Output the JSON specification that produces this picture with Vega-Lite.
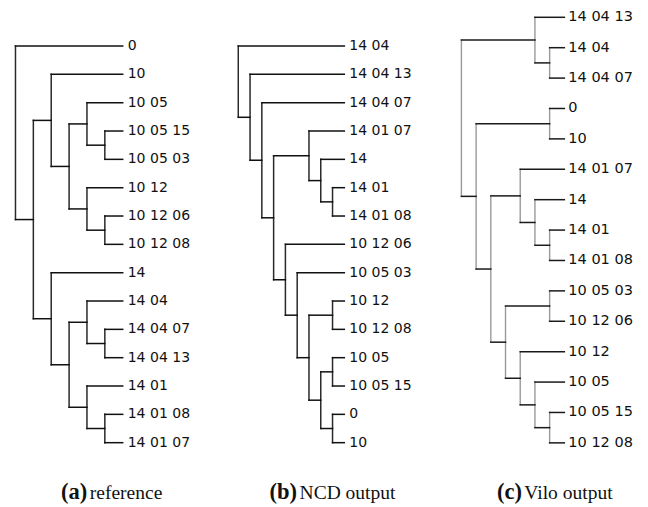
{
  "$schema": "https://vega.github.io/schema/vega-lite/v6.json",
  "padding": 0,
  "spacing": 0,
  "bounds": "flush",
  "config": {"view": {"stroke": null}},
  "datasets": {
    "a": [
      {"id": "0", "h": 0, "y": 0, "parent": "root"},
      {"id": "10", "h": 0, "y": 1, "parent": "B"},
      {"id": "10 05", "h": 0, "y": 2, "parent": "E"},
      {"id": "10 05 15", "h": 0, "y": 3, "parent": "G"},
      {"id": "10 05 03", "h": 0, "y": 4, "parent": "G"},
      {"id": "10 12", "h": 0, "y": 5, "parent": "F"},
      {"id": "10 12 06", "h": 0, "y": 6, "parent": "H"},
      {"id": "10 12 08", "h": 0, "y": 7, "parent": "H"},
      {"id": "14", "h": 0, "y": 8, "parent": "C"},
      {"id": "14 04", "h": 0, "y": 9, "parent": "J"},
      {"id": "14 04 07", "h": 0, "y": 10, "parent": "L"},
      {"id": "14 04 13", "h": 0, "y": 11, "parent": "L"},
      {"id": "14 01", "h": 0, "y": 12, "parent": "K"},
      {"id": "14 01 08", "h": 0, "y": 13, "parent": "M"},
      {"id": "14 01 07", "h": 0, "y": 14, "parent": "M"},
      {"id": "G", "h": 1, "y": 3.5, "parent": "E"},
      {"id": "E", "h": 2, "y": 2.75, "parent": "D"},
      {"id": "H", "h": 1, "y": 6.5, "parent": "F"},
      {"id": "F", "h": 2, "y": 5.75, "parent": "D"},
      {"id": "D", "h": 3, "y": 4.25, "parent": "B"},
      {"id": "B", "h": 4, "y": 2.625, "parent": "A"},
      {"id": "L", "h": 1, "y": 10.5, "parent": "J"},
      {"id": "J", "h": 2, "y": 9.75, "parent": "I"},
      {"id": "M", "h": 1, "y": 13.5, "parent": "K"},
      {"id": "K", "h": 2, "y": 12.75, "parent": "I"},
      {"id": "I", "h": 3, "y": 11.25, "parent": "C"},
      {"id": "C", "h": 4, "y": 9.625, "parent": "A"},
      {"id": "A", "h": 5, "y": 6.125, "parent": "root"},
      {"id": "root", "h": 6, "y": 3.0625, "parent": null}
    ],
    "b": [
      {"id": "14 04", "h": 0, "y": 0, "parent": "root"},
      {"id": "14 04 13", "h": 0, "y": 1, "parent": "N1"},
      {"id": "14 04 07", "h": 0, "y": 2, "parent": "N2"},
      {"id": "14 01 07", "h": 0, "y": 3, "parent": "N4"},
      {"id": "14", "h": 0, "y": 4, "parent": "N6"},
      {"id": "14 01", "h": 0, "y": 5, "parent": "N7"},
      {"id": "14 01 08", "h": 0, "y": 6, "parent": "N7"},
      {"id": "10 12 06", "h": 0, "y": 7, "parent": "N5"},
      {"id": "10 05 03", "h": 0, "y": 8, "parent": "N8"},
      {"id": "10 12", "h": 0, "y": 9, "parent": "N10"},
      {"id": "10 12 08", "h": 0, "y": 10, "parent": "N10"},
      {"id": "10 05", "h": 0, "y": 11, "parent": "N12"},
      {"id": "10 05 15", "h": 0, "y": 12, "parent": "N12"},
      {"id": "0", "h": 0, "y": 13, "parent": "N13"},
      {"id": "10", "h": 0, "y": 14, "parent": "N13"},
      {"id": "N7", "h": 1, "y": 5.5, "parent": "N6"},
      {"id": "N6", "h": 2, "y": 4.75, "parent": "N4"},
      {"id": "N4", "h": 3, "y": 3.875, "parent": "N3"},
      {"id": "N10", "h": 1, "y": 9.5, "parent": "N9"},
      {"id": "N12", "h": 1, "y": 11.5, "parent": "N11"},
      {"id": "N13", "h": 1, "y": 13.5, "parent": "N11"},
      {"id": "N11", "h": 2, "y": 12.5, "parent": "N9"},
      {"id": "N9", "h": 3, "y": 11, "parent": "N8"},
      {"id": "N8", "h": 4, "y": 9.5, "parent": "N5"},
      {"id": "N5", "h": 5, "y": 8.25, "parent": "N3"},
      {"id": "N3", "h": 6, "y": 6.0625, "parent": "N2"},
      {"id": "N2", "h": 7, "y": 4.03125, "parent": "N1"},
      {"id": "N1", "h": 8, "y": 2.515625, "parent": "root"},
      {"id": "root", "h": 9, "y": 1.2578125, "parent": null}
    ],
    "c": [
      {"id": "14 04 13", "h": 0, "y": 0, "parent": "N1"},
      {"id": "14 04", "h": 0, "y": 1, "parent": "N3"},
      {"id": "14 04 07", "h": 0, "y": 2, "parent": "N3"},
      {"id": "0", "h": 0, "y": 3, "parent": "N4"},
      {"id": "10", "h": 0, "y": 4, "parent": "N4"},
      {"id": "14 01 07", "h": 0, "y": 5, "parent": "N6"},
      {"id": "14", "h": 0, "y": 6, "parent": "N8"},
      {"id": "14 01", "h": 0, "y": 7, "parent": "N9"},
      {"id": "14 01 08", "h": 0, "y": 8, "parent": "N9"},
      {"id": "10 05 03", "h": 0, "y": 9, "parent": "N10"},
      {"id": "10 12 06", "h": 0, "y": 10, "parent": "N10"},
      {"id": "10 12", "h": 0, "y": 11, "parent": "N11"},
      {"id": "10 05", "h": 0, "y": 12, "parent": "N12"},
      {"id": "10 05 15", "h": 0, "y": 13, "parent": "N13"},
      {"id": "10 12 08", "h": 0, "y": 14, "parent": "N13"},
      {"id": "N3", "h": 1, "y": 1.5, "parent": "N1"},
      {"id": "N1", "h": 2, "y": 0.75, "parent": "root"},
      {"id": "N4", "h": 1, "y": 3.5, "parent": "N2"},
      {"id": "N9", "h": 1, "y": 7.5, "parent": "N8"},
      {"id": "N8", "h": 2, "y": 6.75, "parent": "N6"},
      {"id": "N6", "h": 3, "y": 5.875, "parent": "N5"},
      {"id": "N10", "h": 1, "y": 9.5, "parent": "N7"},
      {"id": "N13", "h": 1, "y": 13.5, "parent": "N12"},
      {"id": "N12", "h": 2, "y": 12.75, "parent": "N11"},
      {"id": "N11", "h": 3, "y": 11.875, "parent": "N7"},
      {"id": "N7", "h": 4, "y": 10.6875, "parent": "N5"},
      {"id": "N5", "h": 5, "y": 8.28125, "parent": "N2"},
      {"id": "N2", "h": 6, "y": 5.890625, "parent": "root"},
      {"id": "root", "h": 7, "y": 3.3203125, "parent": null}
    ]
  },
  "hconcat": [
    {
      "width": 216,
      "height": 507,
      "data": {"name": "a"},
      "layer": [
        {
          "transform": [
            {"filter": "datum.parent != null"},
            {"aggregate": [{"op": "min", "field": "y", "as": "y1"}, {"op": "max", "field": "y", "as": "y2"}], "groupby": ["parent"]},
            {"lookup": "parent", "from": {"data": {"name": "a"}, "key": "id", "fields": ["h"]}}
          ],
          "mark": {"type": "rule", "color": "#2a2a2a", "strokeWidth": 1.5, "strokeCap": "square"},
          "encoding": {
            "x": {"field": "h", "type": "quantitative", "scale": {"domain": [-5.22, 6.866], "reverse": true, "nice": false, "zero": false}, "axis": null},
            "y": {"field": "y1", "type": "quantitative", "scale": {"domain": [-1.624, 16.27], "reverse": true, "nice": false, "zero": false}, "axis": null},
            "y2": {"field": "y2"}
          }
        },
        {
          "transform": [
            {"filter": "datum.parent != null"},
            {"lookup": "parent", "from": {"data": {"name": "a"}, "key": "id", "fields": ["h"]}, "as": ["ph"]}
          ],
          "mark": {"type": "rule", "color": "#111111", "strokeWidth": 1.5, "strokeCap": "square"},
          "encoding": {
            "x": {"field": "h", "type": "quantitative", "scale": {"domain": [-5.22, 6.866], "reverse": true, "nice": false, "zero": false}, "axis": null},
            "x2": {"field": "ph"},
            "y": {"field": "y", "type": "quantitative", "scale": {"domain": [-1.624, 16.27], "reverse": true, "nice": false, "zero": false}, "axis": null}
          }
        },
        {
          "transform": [{"filter": "datum.h == 0"}],
          "mark": {"type": "text", "align": "left", "baseline": "middle", "dx": 5, "font": "DejaVu Sans", "fontSize": 14, "color": "#111111"},
          "encoding": {
            "x": {"field": "h", "type": "quantitative", "scale": {"domain": [-5.22, 6.866], "reverse": true, "nice": false, "zero": false}, "axis": null},
            "y": {"field": "y", "type": "quantitative", "scale": {"domain": [-1.624, 16.27], "reverse": true, "nice": false, "zero": false}, "axis": null},
            "text": {"field": "id"}
          }
        },
        {
          "data": {"values": [{"tag": "(a)", "caption": "reference"}]},
          "mark": {"type": "text", "align": "right", "baseline": "alphabetic", "font": "Liberation Serif", "fontWeight": "bold", "fontSize": 22.5, "color": "#111111"},
          "encoding": {
            "x": {"datum": 1.98, "type": "quantitative"},
            "y": {"datum": 16.0, "type": "quantitative"},
            "text": {"field": "tag"}
          }
        },
        {
          "data": {"values": [{"tag": "(a)", "caption": "reference"}]},
          "mark": {"type": "text", "align": "left", "baseline": "alphabetic", "font": "Liberation Serif", "fontSize": 19.5, "color": "#111111"},
          "encoding": {
            "x": {"datum": 1.84, "type": "quantitative"},
            "y": {"datum": 16.0, "type": "quantitative"},
            "text": {"field": "caption"}
          }
        }
      ]
    },
    {
      "width": 216,
      "height": 507,
      "data": {"name": "b"},
      "layer": [
        {
          "transform": [
            {"filter": "datum.parent != null"},
            {"aggregate": [{"op": "min", "field": "y", "as": "y1"}, {"op": "max", "field": "y", "as": "y2"}], "groupby": ["parent"]},
            {"lookup": "parent", "from": {"data": {"name": "b"}, "key": "id", "fields": ["h"]}}
          ],
          "mark": {"type": "rule", "color": "#2a2a2a", "strokeWidth": 1.5, "strokeCap": "square"},
          "encoding": {
            "x": {"field": "h", "type": "quantitative", "scale": {"domain": [-7.44, 10.89], "reverse": true, "nice": false, "zero": false}, "axis": null},
            "y": {"field": "y1", "type": "quantitative", "scale": {"domain": [-1.624, 16.27], "reverse": true, "nice": false, "zero": false}, "axis": null},
            "y2": {"field": "y2"}
          }
        },
        {
          "transform": [
            {"filter": "datum.parent != null"},
            {"lookup": "parent", "from": {"data": {"name": "b"}, "key": "id", "fields": ["h"]}, "as": ["ph"]}
          ],
          "mark": {"type": "rule", "color": "#111111", "strokeWidth": 1.5, "strokeCap": "square"},
          "encoding": {
            "x": {"field": "h", "type": "quantitative", "scale": {"domain": [-7.44, 10.89], "reverse": true, "nice": false, "zero": false}, "axis": null},
            "x2": {"field": "ph"},
            "y": {"field": "y", "type": "quantitative", "scale": {"domain": [-1.624, 16.27], "reverse": true, "nice": false, "zero": false}, "axis": null}
          }
        },
        {
          "transform": [{"filter": "datum.h == 0"}],
          "mark": {"type": "text", "align": "left", "baseline": "middle", "dx": 5, "font": "DejaVu Sans", "fontSize": 14, "color": "#111111"},
          "encoding": {
            "x": {"field": "h", "type": "quantitative", "scale": {"domain": [-7.44, 10.89], "reverse": true, "nice": false, "zero": false}, "axis": null},
            "y": {"field": "y", "type": "quantitative", "scale": {"domain": [-1.624, 16.27], "reverse": true, "nice": false, "zero": false}, "axis": null},
            "text": {"field": "id"}
          }
        },
        {
          "data": {"values": [{"tag": "(b)", "caption": "NCD output"}]},
          "mark": {"type": "text", "align": "right", "baseline": "alphabetic", "font": "Liberation Serif", "fontWeight": "bold", "fontSize": 22.5, "color": "#111111"},
          "encoding": {
            "x": {"datum": 4.02, "type": "quantitative"},
            "y": {"datum": 16.0, "type": "quantitative"},
            "text": {"field": "tag"}
          }
        },
        {
          "data": {"values": [{"tag": "(b)", "caption": "NCD output"}]},
          "mark": {"type": "text", "align": "left", "baseline": "alphabetic", "font": "Liberation Serif", "fontSize": 19.5, "color": "#111111"},
          "encoding": {
            "x": {"datum": 3.8, "type": "quantitative"},
            "y": {"datum": 16.0, "type": "quantitative"},
            "text": {"field": "caption"}
          }
        }
      ]
    },
    {
      "width": 216,
      "height": 507,
      "data": {"name": "c"},
      "layer": [
        {
          "transform": [
            {"filter": "datum.parent != null"},
            {"aggregate": [{"op": "min", "field": "y", "as": "y1"}, {"op": "max", "field": "y", "as": "y2"}], "groupby": ["parent"]},
            {"lookup": "parent", "from": {"data": {"name": "c"}, "key": "id", "fields": ["h"]}}
          ],
          "mark": {"type": "rule", "color": "#999999", "strokeWidth": 1.4, "strokeCap": "square"},
          "encoding": {
            "x": {"field": "h", "type": "quantitative", "scale": {"domain": [-5.69, 9.0], "reverse": true, "nice": false, "zero": false}, "axis": null},
            "y": {"field": "y1", "type": "quantitative", "scale": {"domain": [-0.569, 16.11], "reverse": true, "nice": false, "zero": false}, "axis": null},
            "y2": {"field": "y2"}
          }
        },
        {
          "transform": [
            {"filter": "datum.parent != null"},
            {"lookup": "parent", "from": {"data": {"name": "c"}, "key": "id", "fields": ["h"]}, "as": ["ph"]}
          ],
          "mark": {"type": "rule", "color": "#1a1a1a", "strokeWidth": 1.5, "strokeCap": "square"},
          "encoding": {
            "x": {"field": "h", "type": "quantitative", "scale": {"domain": [-5.69, 9.0], "reverse": true, "nice": false, "zero": false}, "axis": null},
            "x2": {"field": "ph"},
            "y": {"field": "y", "type": "quantitative", "scale": {"domain": [-0.569, 16.11], "reverse": true, "nice": false, "zero": false}, "axis": null}
          }
        },
        {
          "transform": [{"filter": "datum.h == 0"}],
          "mark": {"type": "text", "align": "left", "baseline": "middle", "dx": 4, "font": "DejaVu Sans", "fontSize": 14.5, "color": "#111111"},
          "encoding": {
            "x": {"field": "h", "type": "quantitative", "scale": {"domain": [-5.69, 9.0], "reverse": true, "nice": false, "zero": false}, "axis": null},
            "y": {"field": "y", "type": "quantitative", "scale": {"domain": [-0.569, 16.11], "reverse": true, "nice": false, "zero": false}, "axis": null},
            "text": {"field": "id"}
          }
        },
        {
          "data": {"values": [{"tag": "(c)", "caption": "Vilo output"}]},
          "mark": {"type": "text", "align": "right", "baseline": "alphabetic", "font": "Liberation Serif", "fontWeight": "bold", "fontSize": 22.5, "color": "#111111"},
          "encoding": {
            "x": {"datum": 2.88, "type": "quantitative"},
            "y": {"datum": 15.86, "type": "quantitative"},
            "text": {"field": "tag"}
          }
        },
        {
          "data": {"values": [{"tag": "(c)", "caption": "Vilo output"}]},
          "mark": {"type": "text", "align": "left", "baseline": "alphabetic", "font": "Liberation Serif", "fontSize": 19.5, "color": "#111111"},
          "encoding": {
            "x": {"datum": 2.72, "type": "quantitative"},
            "y": {"datum": 15.86, "type": "quantitative"},
            "text": {"field": "caption"}
          }
        }
      ]
    }
  ]
}
